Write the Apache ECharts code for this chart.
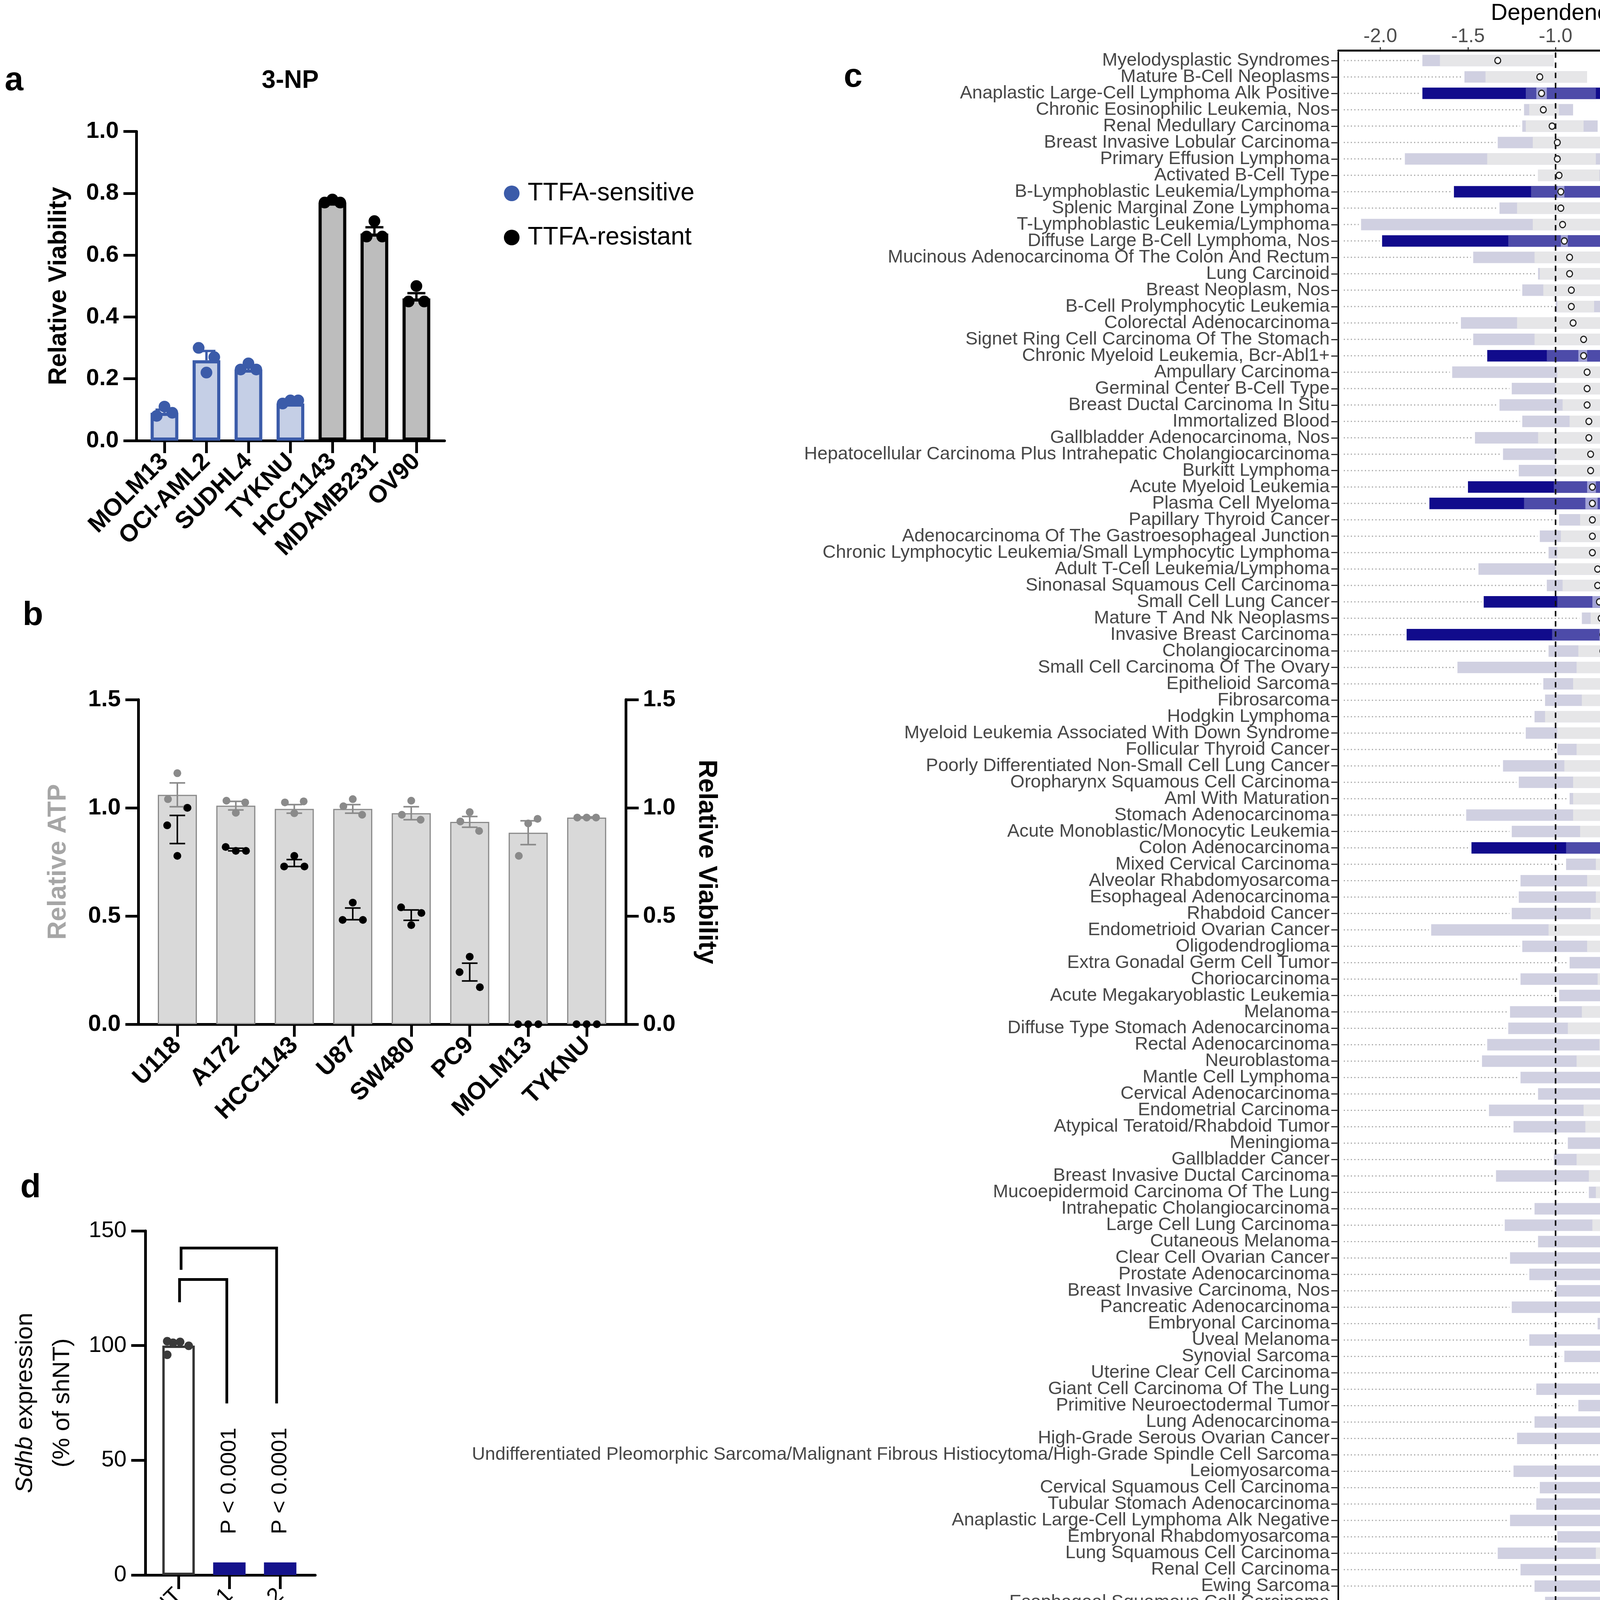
<!DOCTYPE html>
<html>
<head>
<meta charset="utf-8">
<script src="https://cdn.jsdelivr.net/npm/echarts@6.0.0/dist/echarts.min.js"></script>
<style>html,body{margin:0;padding:0;background:#fff}#chart{width:4938px;height:6617px}</style>
</head>
<body>
<div id="chart"></div>
<script>
// ================= Panel a : 3-NP relative viability =================
const viaCells = ['MOLM13','OCI-AML2','SUDHL4','TYKNU','HCC1143','MDAMB231','OV90'];
const viaGroup = ['sensitive','sensitive','sensitive','sensitive','resistant','resistant','resistant'];
const viaMean  = [0.09, 0.26, 0.23, 0.12, 0.77, 0.67, 0.46];
const viaSem   = [0.01, 0.03, 0.01, 0.005, 0.005, 0.02, 0.017];
const viaReps  = [[0.08,0.11,0.09],[0.30,0.22,0.27],[0.23,0.25,0.23],[0.12,0.13,0.13],[0.77,0.78,0.77],[0.66,0.71,0.66],[0.45,0.50,0.45]];

// ================= Panel b : Relative ATP / Relative Viability =================
const atpCells = ['U118','A172','HCC1143','U87','SW480','PC9','MOLM13','TYKNU'];
const atpMean  = [1.06, 1.01, 0.995, 0.995, 0.975, 0.935, 0.885, 0.955];
const atpSem   = [0.055, 0.02, 0.02, 0.02, 0.03, 0.025, 0.055, 0.003];
const atpReps  = [[1.04,1.16,1.00],[1.033,0.977,1.025],[1.025,0.975,1.03],[1.007,1.04,0.968],[0.968,1.033,0.945],[0.937,0.98,0.893],[0.778,0.928,0.949],[0.955,0.955,0.955]];
const viabMean = [0.90, 0.807, 0.745, 0.51, 0.504, 0.241, 0, 0];
const viabSem  = [0.065, 0.006, 0.016, 0.027, 0.024, 0.041, 0, 0];
const viabReps = [[0.919,0.778,1.0],[0.819,0.801,0.801],[0.729,0.778,0.729],[0.482,0.562,0.482],[0.54,0.458,0.514],[0.241,0.312,0.171],[0,0,0],[0,0,0]];

// ================= Panel d : Sdhb expression =================
const shCats   = ['shNT','shSdhb.1','shSdhb.2'];
const shMean   = [100, 5.5, 5.5];
const shNTReps = [101.9, 101.2, 101.6, 99.9, 96.0];
const shPText  = ['P < 0.0001','P < 0.0001'];
const shPAt    = [41, 41];
const bracketFrom = [0.02, 0.05];
const bracketTo   = [0.95, 1.93];
const bracketTop  = [128.8, 142.5];
const bracketLeftFoot  = [118.9, 133];
const bracketRightFoot = [74.8, 74.8];

// ================= Panel c : Dependency score by lineage =================
const depCategories = [
'Myelodysplastic Syndromes','Mature B-Cell Neoplasms','Anaplastic Large-Cell Lymphoma Alk Positive','Chronic Eosinophilic Leukemia, Nos','Renal Medullary Carcinoma','Breast Invasive Lobular Carcinoma','Primary Effusion Lymphoma','Activated B-Cell Type','B-Lymphoblastic Leukemia/Lymphoma','Splenic Marginal Zone Lymphoma',
'T-Lymphoblastic Leukemia/Lymphoma','Diffuse Large B-Cell Lymphoma, Nos','Mucinous Adenocarcinoma Of The Colon And Rectum','Lung Carcinoid','Breast Neoplasm, Nos','B-Cell Prolymphocytic Leukemia','Colorectal Adenocarcinoma','Signet Ring Cell Carcinoma Of The Stomach','Chronic Myeloid Leukemia, Bcr-Abl1+','Ampullary Carcinoma',
'Germinal Center B-Cell Type','Breast Ductal Carcinoma In Situ','Immortalized Blood','Gallbladder Adenocarcinoma, Nos','Hepatocellular Carcinoma Plus Intrahepatic Cholangiocarcinoma','Burkitt Lymphoma','Acute Myeloid Leukemia','Plasma Cell Myeloma','Papillary Thyroid Cancer','Adenocarcinoma Of The Gastroesophageal Junction',
'Chronic Lymphocytic Leukemia/Small Lymphocytic Lymphoma','Adult T-Cell Leukemia/Lymphoma','Sinonasal Squamous Cell Carcinoma','Small Cell Lung Cancer','Mature T And Nk Neoplasms','Invasive Breast Carcinoma','Cholangiocarcinoma','Small Cell Carcinoma Of The Ovary','Epithelioid Sarcoma','Fibrosarcoma',
'Hodgkin Lymphoma','Myeloid Leukemia Associated With Down Syndrome','Follicular Thyroid Cancer','Poorly Differentiated Non-Small Cell Lung Cancer','Oropharynx Squamous Cell Carcinoma','Aml With Maturation','Stomach Adenocarcinoma','Acute Monoblastic/Monocytic Leukemia','Colon Adenocarcinoma','Mixed Cervical Carcinoma',
'Alveolar Rhabdomyosarcoma','Esophageal Adenocarcinoma','Rhabdoid Cancer','Endometrioid Ovarian Cancer','Oligodendroglioma','Extra Gonadal Germ Cell Tumor','Choriocarcinoma','Acute Megakaryoblastic Leukemia','Melanoma','Diffuse Type Stomach Adenocarcinoma',
'Rectal Adenocarcinoma','Neuroblastoma','Mantle Cell Lymphoma','Cervical Adenocarcinoma','Endometrial Carcinoma','Atypical Teratoid/Rhabdoid Tumor','Meningioma','Gallbladder Cancer','Breast Invasive Ductal Carcinoma','Mucoepidermoid Carcinoma Of The Lung',
'Intrahepatic Cholangiocarcinoma','Large Cell Lung Carcinoma','Cutaneous Melanoma','Clear Cell Ovarian Cancer','Prostate Adenocarcinoma','Breast Invasive Carcinoma, Nos','Pancreatic Adenocarcinoma','Embryonal Carcinoma','Uveal Melanoma','Synovial Sarcoma',
'Uterine Clear Cell Carcinoma','Giant Cell Carcinoma Of The Lung','Primitive Neuroectodermal Tumor','Lung Adenocarcinoma','High-Grade Serous Ovarian Cancer','Undifferentiated Pleomorphic Sarcoma/Malignant Fibrous Histiocytoma/High-Grade Spindle Cell Sarcoma','Leiomyosarcoma','Cervical Squamous Cell Carcinoma','Tubular Stomach Adenocarcinoma','Anaplastic Large-Cell Lymphoma Alk Negative',
'Embryonal Rhabdomyosarcoma','Lung Squamous Cell Carcinoma','Renal Cell Carcinoma','Ewing Sarcoma','Esophageal Squamous Cell Carcinoma','Teratoma','Non-Small Cell Lung Cancer','Dedifferentiated Liposarcoma','Uterine Adenosquamous Carcinoma','Serous Ovarian Cancer',
'Adenosquamous Carcinoma Of The Pancreas','Retinoblastoma','Extrahepatic Cholangiocarcinoma','Mucinous Ovarian Cancer','Astrocytoma','Pleural Mesothelioma, Epithelioid Type','Squamous Cell Carcinoma Of The Vulva/Vagina','Anaplastic Thyroid Cancer','Poorly Differentiated Thyroid Cancer','Mucosal Melanoma Of The Vulva/Vagina',
'Urethral Urothelial Carcinoma','Hepatocellular Carcinoma','Medulloblastoma','Bladder Urothelial Carcinoma','Acral Melanoma','Mucinous Stomach Adenocarcinoma','Brenner Tumor, Malignant','Uterine Leiomyosarcoma','Head And Neck Squamous Cell Carcinoma','Hypopharynx Squamous Cell Carcinoma',
'Renal Clear Cell Carcinoma','Hepatoblastoma','Anaplastic Astrocytoma','Larynx Squamous Cell Carcinoma','Merkel Cell Carcinoma','Oral Cavity Squamous Cell Carcinoma','Head And Neck Carcinoma, Other','Lung Adenosquamous Carcinoma','Mixed Germ Cell Tumor','Immortalized Embyonic Kidney Cells',
'Papillary Renal Cell Carcinoma','Glioblastoma','Hyperplasia, Prostate','Uterine Carcinosarcoma/Uterine Malignant Mixed Mullerian Tumor','Cutaneous Squamous Cell Carcinoma','Immortalized Epithelial Cells, Retinal','Gliosarcoma','Pleural Mesothelioma, Biphasic Type','Bladder Squamous Cell Carcinoma','Osteosarcoma',
'Mucoepidermoid Carcinoma','Endometrial Stromal Sarcoma','Mixed Ovarian Carcinoma','Malignant Peripheral Nerve Sheath Tumor','Endocervical Adenocarcinoma','Dedifferentiated Chondrosarcoma','Glassy Cell Carcinoma Of The Cervix','Sarcoma, Nos','Pleural Mesothelioma, Sarcomatoid Type','Liposarcoma',
'Well-Differentiated Liposarcoma'
];
const depLo95 = [
-1.76,-1.52,-1.76,-1.18,-1.19,-1.33,-1.86,-1.10,-1.58,-1.32,
-2.11,-1.99,-1.47,-1.10,-1.19,-1.00,-1.54,-1.47,-1.39,-1.59,
-1.25,-1.32,-1.19,-1.46,-1.30,-1.21,-1.50,-1.72,-0.98,-1.09,
-1.04,-1.44,-1.05,-1.41,-0.85,-1.85,-1.04,-1.56,-1.07,-1.06,
-1.12,-1.17,-0.99,-1.30,-1.21,-0.92,-1.51,-1.25,-1.48,-0.94,
-1.20,-1.21,-1.25,-1.71,-1.19,-0.92,-1.20,-0.98,-1.26,-1.27,
-1.39,-1.42,-1.20,-1.10,-1.38,-1.24,-0.93,-1.01,-1.34,-0.81,
-1.12,-1.29,-1.10,-1.26,-1.15,-1.00,-1.25,-0.76,-1.15,-0.95,
-0.65,-1.11,-0.87,-1.12,-1.22,-0.74,-1.24,-1.09,-1.11,-1.26,
-0.99,-1.33,-1.20,-1.12,-1.06,-0.80,-1.19,-0.90,-1.25,-1.06,
-0.72,-1.41,-1.29,-1.23,-0.84,-1.01,-0.87,-0.85,-0.69,-0.64,
-1.13,-1.08,-1.21,-1.12,-0.99,-0.48,-0.71,-0.83,-1.20,-0.83,
-1.06,-0.80,-0.54,-0.85,-0.66,-0.92,-0.55,-0.85,-0.81,-0.71,
-0.46,-1.12,-0.54,-0.76,-0.74,-0.80,-0.58,-0.88,-0.61,-0.69,
-0.19,-0.63,-0.50,-0.66,-0.52,-0.32,-0.57,-0.30,-0.42,-0.59,
-0.39];
const depLo50 = [
-1.66,-1.40,-1.17,-1.15,-1.17,-1.13,-1.39,-1.10,-1.14,-1.22,
-1.13,-1.27,-1.12,-1.09,-1.07,-0.99,-1.22,-1.12,-1.05,-0.99,
-1.00,-0.96,-0.92,-1.10,-1.00,-1.00,-1.01,-1.18,-0.86,-0.97,
-0.99,-1.00,-0.96,-0.99,-0.80,-1.02,-0.87,-0.88,-0.90,-0.85,
-1.06,-0.99,-0.88,-0.95,-0.90,-0.90,-0.90,-0.86,-0.94,-0.77,
-0.82,-0.77,-0.80,-1.04,-0.82,-0.73,-0.76,-0.65,-0.85,-0.93,
-0.75,-0.88,-0.73,-0.73,-0.84,-0.83,-0.64,-0.88,-0.81,-0.77,
-0.72,-0.79,-0.74,-0.68,-0.67,-0.73,-0.73,-0.73,-0.71,-0.61,
-0.54,-0.72,-0.65,-0.74,-0.64,-0.52,-0.67,-0.69,-0.66,-0.71,
-0.64,-0.77,-0.61,-0.70,-0.64,-0.58,-0.73,-0.48,-0.58,-0.51,
-0.53,-0.70,-0.71,-0.59,-0.60,-0.61,-0.55,-0.50,-0.48,-0.43,
-0.65,-0.64,-0.77,-0.63,-0.77,-0.37,-0.46,-0.35,-0.53,-0.69,
-0.58,-0.56,-0.38,-0.49,-0.46,-0.52,-0.41,-0.41,-0.47,-0.39,
-0.41,-0.43,-0.39,-0.35,-0.43,-0.50,-0.24,-0.47,-0.31,-0.38,
-0.14,-0.27,-0.33,-0.31,-0.27,-0.23,-0.32,-0.25,-0.19,-0.26,
-0.22];
const depMedian = [
-1.33,-1.09,-1.08,-1.07,-1.02,-0.99,-0.99,-0.98,-0.97,-0.97,
-0.96,-0.95,-0.92,-0.92,-0.91,-0.91,-0.90,-0.84,-0.84,-0.82,
-0.82,-0.82,-0.81,-0.81,-0.80,-0.80,-0.79,-0.79,-0.79,-0.79,
-0.79,-0.76,-0.76,-0.75,-0.74,-0.73,-0.73,-0.72,-0.72,-0.71,
-0.71,-0.69,-0.68,-0.68,-0.68,-0.68,-0.66,-0.66,-0.65,-0.64,
-0.64,-0.63,-0.62,-0.60,-0.60,-0.60,-0.58,-0.58,-0.57,-0.57,
-0.56,-0.55,-0.55,-0.54,-0.53,-0.53,-0.52,-0.50,-0.50,-0.49,
-0.46,-0.46,-0.45,-0.45,-0.44,-0.44,-0.44,-0.42,-0.42,-0.42,
-0.42,-0.42,-0.41,-0.40,-0.40,-0.40,-0.40,-0.39,-0.38,-0.38,
-0.38,-0.38,-0.37,-0.37,-0.37,-0.36,-0.36,-0.35,-0.35,-0.35,
-0.35,-0.34,-0.34,-0.34,-0.34,-0.33,-0.32,-0.31,-0.31,-0.31,
-0.31,-0.30,-0.29,-0.29,-0.28,-0.28,-0.28,-0.28,-0.26,-0.26,
-0.25,-0.25,-0.25,-0.25,-0.25,-0.24,-0.23,-0.23,-0.22,-0.22,
-0.21,-0.21,-0.20,-0.17,-0.14,-0.14,-0.14,-0.13,-0.12,-0.11,
-0.11,-0.11,-0.10,-0.08,-0.07,-0.06,-0.06,-0.03,-0.03,-0.03,
0.06];
const depHi50 = [
-1.01,-0.82,-0.77,-0.98,-0.84,-0.73,-0.77,-0.75,-0.71,-0.73,
-0.66,-0.67,-0.53,-0.71,-0.74,-0.78,-0.61,-0.58,-0.58,-0.66,
-0.57,-0.57,-0.47,-0.29,-0.68,-0.65,-0.61,-0.52,-0.68,-0.62,
-0.58,-0.44,-0.57,-0.47,-0.57,-0.41,-0.51,-0.55,-0.42,-0.62,
-0.52,-0.37,-0.53,-0.39,-0.53,-0.39,-0.33,-0.48,-0.34,-0.50,
-0.34,-0.38,-0.43,-0.38,-0.20,-0.39,-0.39,-0.44,-0.32,-0.43,
-0.26,-0.23,-0.50,-0.19,-0.27,-0.38,-0.34,-0.16,-0.22,-0.14,
-0.13,-0.18,-0.29,-0.23,-0.14,-0.28,-0.18,-0.08,-0.17,-0.20,
-0.29,-0.09,-0.31,-0.15,-0.13,-0.19,-0.09,-0.09,-0.22,-0.24,
-0.09,-0.18,-0.15,-0.04,-0.14,-0.19,-0.19,-0.01,-0.09,-0.15,
-0.14,-0.11,-0.07,-0.19,-0.10,0.03,-0.19,-0.04,-0.17,-0.22,
-0.06,-0.07,-0.16,-0.04,-0.08,-0.17,-0.16,-0.22,-0.17,-0.11,
-0.10,-0.15,-0.10,-0.07,0.08,-0.04,-0.05,-0.11,0.01,-0.10,
-0.03,0.05,-0.02,0.20,-0.01,0.18,-0.07,-0.02,0.12,0.07,
-0.05,-0.03,0.10,0.08,0.08,0.09,0.15,0.17,0.10,0.14,
0.21];
const depHi95 = [
-1.01,-0.82,-0.38,-0.90,-0.76,-0.20,-0.29,-0.46,-0.45,-0.52,
-0.27,-0.04,-0.38,-0.65,-0.60,-0.50,-0.39,-0.26,0.03,-0.36,
-0.08,0.07,-0.26,0.12,-0.61,-0.18,-0.14,-0.09,-0.45,-0.57,
-0.21,0.01,-0.50,0.05,-0.41,0.11,-0.17,-0.12,-0.07,-0.52,
-0.36,-0.17,-0.28,-0.03,-0.45,-0.24,0.15,-0.14,0.08,-0.30,
0.04,0.07,-0.12,-0.21,0.07,0.01,-0.07,-0.12,0.10,-0.14,
0.00,0.19,-0.38,-0.02,0.10,-0.15,-0.10,-0.16,0.04,0.07,
0.27,0.10,-0.09,0.19,0.17,-0.14,0.16,0.04,0.25,0.23,
-0.14,0.11,-0.07,0.18,0.11,0.01,0.20,0.24,0.00,-0.24,
0.19,0.20,0.23,0.20,0.11,-0.13,0.13,0.28,0.06,0.15,
0.01,0.04,0.31,0.12,0.26,0.29,-0.14,0.19,-0.06,-0.10,
0.01,0.21,0.21,0.23,0.31,-0.04,-0.09,0.11,0.35,0.13,
0.09,-0.03,0.04,0.17,0.28,0.23,0.08,0.07,0.30,0.11,
-0.03,0.40,0.08,0.40,0.19,0.28,0.22,0.32,0.38,0.24,
0.03,-0.03,0.18,0.36,0.16,0.13,0.23,0.17,0.24,0.27,
0.49];
// highlighted lineages (coloured intervals) and their 0.05 interval
const hlRows = ['Anaplastic Large-Cell Lymphoma Alk Positive','B-Lymphoblastic Leukemia/Lymphoma','Diffuse Large B-Cell Lymphoma, Nos','Chronic Myeloid Leukemia, Bcr-Abl1+','Acute Myeloid Leukemia','Plasma Cell Myeloma','Small Cell Lung Cancer','Invasive Breast Carcinoma','Colon Adenocarcinoma','Bladder Urothelial Carcinoma','Oral Cavity Squamous Cell Carcinoma','Glioblastoma','Osteosarcoma','Malignant Peripheral Nerve Sheath Tumor','Well-Differentiated Liposarcoma'];
const hlLo05 = [-1.11,-0.99,-0.97,-0.87,-0.82,-0.83,-0.79,-0.75,-0.68,-0.31,-0.26,-0.22,-0.13,-0.11,0.04];
const hlHi05 = [-1.05,-0.95,-0.93,-0.82,-0.77,-0.76,-0.68,-0.71,-0.62,-0.28,-0.22,-0.19,-0.09,-0.05,0.08];
const depTicks = [-2.0,-1.5,-1.0,-0.5,0.0,0.5];
const depRefLines = [-1.0, 0.0];
const levelNames = ['0.05','0.5','0.95'];
// annotations (arrow tip position in dependency-score units)
const annoRows  = ['Anaplastic Large-Cell Lymphoma Alk Positive','B-Lymphoblastic Leukemia/Lymphoma','Diffuse Large B-Cell Lymphoma, Nos','Chronic Myeloid Leukemia, Bcr-Abl1+','Acute Myeloid Leukemia'];
const annoTexts = ['Alk\u207A ALCL','B-ALL/B-LLy','DLBCL','Bcr-Abl1\u207A\nCML','AML'];
const annoTip   = [-0.215, -0.258, 0.108, 0.081, 0.101];

// ================= styles =================
const FONT = '"Liberation Sans", Arial, Helvetica, sans-serif';
const SENS = {fill:'#c5cfe6', line:'#3b5ba9'};
const RES  = {fill:'#bdbdbd', line:'#000000'};
const C95 = '#110b8c', C50 = '#4d4ba9', C05 = '#a3a3d6';
const G95 = '#d0d0e1', G50 = '#e6e6e8';
const LEGC = ['#9c9cd3','#4f4fb0','#0b0b8b'];
const ANNO_SHAFT = [148, 149, 149, 120, 148];
const ANNO_GAP   = [192, 186, 195, 164, 198];

const chart = echarts.init(document.getElementById('chart'), null, {renderer:'canvas'});

function idx(arr){ return arr.map((_, i) => i); }

function pointRenderer(offsets, size, colorFn) {
  return function (params, api) {
    const i = api.value(0);
    const p = api.coord([i, api.value(1)]);
    const off = offsets[api.value(2)];
    return {type:'circle', shape:{cx:p[0] + off, cy:p[1], r:size / 2}, style:{fill: colorFn(i)}};
  };
}
function errRenderer(capW, lw, colorFn, both) {
  return function (params, api) {
    const i = api.value(0), m = api.value(1), s = api.value(2);
    const top = api.coord([i, m + s]);
    const bot = api.coord([i, both ? m - s : m]);
    const c = colorFn(i);
    const kids = [
      {type:'line', shape:{x1:top[0], y1:top[1], x2:bot[0], y2:bot[1]}, style:{stroke:c, lineWidth:lw}},
      {type:'line', shape:{x1:top[0]-capW/2, y1:top[1], x2:top[0]+capW/2, y2:top[1]}, style:{stroke:c, lineWidth:lw}}
    ];
    if (both) kids.push({type:'line', shape:{x1:bot[0]-capW/2, y1:bot[1], x2:bot[0]+capW/2, y2:bot[1]}, style:{stroke:c, lineWidth:lw}});
    return {type:'group', children:kids};
  };
}

function catXAxis(gi, names, min, max, fontWeight, fontSize, lw, tickLen) {
  return {
    gridIndex: gi, type:'value', min:min, max:max,
    axisLine:{show:true, onZero:false, lineStyle:{color:'#000', width:lw}},
    axisTick:{show:true, length:tickLen, customValues: idx(names), lineStyle:{color:'#000', width:lw}},
    axisLabel:{show:true, customValues: idx(names), formatter: v => names[Math.round(v)] || '', rotate:45,
      fontFamily:FONT, fontWeight:fontWeight, fontSize:fontSize, color:'#000', margin:44},
    splitLine:{show:false}
  };
}

const sensIdx = idx(viaCells).filter(i => viaGroup[i] === 'sensitive');
const resIdx  = idx(viaCells).filter(i => viaGroup[i] === 'resistant');
const repData = (reps, list) => { const out = []; list.forEach(i => reps[i].forEach((v, k) => out.push([i, v, k]))); return out; };

const depRowData = depCategories.map((c, i) => [depMedian[i], i]);

function renderDep(params, api) {
  const i = params.dataIndex;
  const cs = params.coordSys;
  const X = v => api.coord([v, i])[0];
  const yc = api.coord([depMedian[i], i])[1];
  const h = api.size([0, 1])[1] * 0.7;
  const k = hlRows.indexOf(depCategories[i]);
  const hl = k >= 0;
  const rect = (a, b, c) => ({type:'rect', shape:{x:X(a), y:yc - h/2, width:Math.max(X(b) - X(a), 1), height:h}, style:{fill:c}});
  const kids = [];
  kids.push({type:'line', shape:{x1:cs.x + 14, y1:yc, x2:X(depLo95[i]) - 6, y2:yc}, style:{stroke:'#a9a9a9', lineWidth:3, lineDash:[3,6]}});
  kids.push(rect(depLo95[i], depHi95[i], hl ? C95 : G95));
  kids.push(rect(depLo50[i], depHi50[i], hl ? C50 : G50));
  if (hl) kids.push(rect(hlLo05[k], hlHi05[k], C05));
  return {type:'group', children:kids};
}

function renderRef(params, api) {
  const cs = params.coordSys;
  const x = api.coord([api.value(0), 0])[0];
  const isMain = params.dataIndex === 0;
  return {type:'line', shape:{x1:x, y1:cs.y, x2:x, y2:cs.y + cs.height},
    style:{stroke: isMain ? '#111' : '#c4c4c4', lineWidth: isMain ? 4 : 3, lineDash: isMain ? [14,12] : [26,22]}};
}

function renderAnno(params, api) {
  const k = params.dataIndex;
  const p = api.coord([api.value(0), api.value(1)]);
  const twoLine = annoTexts[k].indexOf('\n') >= 0;
  return {type:'group', children:[
    {type:'polygon', shape:{points:[[p[0], p[1]], [p[0] + 58, p[1] - 31], [p[0] + 58, p[1] + 31]]}, style:{fill:'#000'}},
    {type:'line', shape:{x1:p[0] + 50, y1:p[1], x2:p[0] + ANNO_SHAFT[k], y2:p[1]}, style:{stroke:'#000', lineWidth:6}},
    {type:'text', x:p[0] + ANNO_GAP[k], y:p[1] + (twoLine ? 12 : -3), style:{text:annoTexts[k], fontFamily:FONT, fontSize:70, fill:'#000',
      align:'left', verticalAlign:'middle', lineHeight:96}}
  ]};
}

function renderBracket(params, api) {
  const k = params.dataIndex;
  const a = api.coord([bracketFrom[k], bracketLeftFoot[k]]);
  const t1 = api.coord([bracketFrom[k], bracketTop[k]]);
  const t2 = api.coord([bracketTo[k], bracketTop[k]]);
  const b = api.coord([bracketTo[k], bracketRightFoot[k]]);
  return {type:'polyline', shape:{points:[a, t1, t2, b]}, style:{stroke:'#000', lineWidth:7, fill:null}};
}
function renderPText(params, api) {
  const p = api.coord([api.value(0), api.value(1)]);
  return {type:'text', x:p[0], y:p[1], rotation:Math.PI/2,
    style:{text:shPText[params.dataIndex], fontFamily:FONT, fontSize:56, fill:'#000', align:'center', verticalAlign:'middle'}};
}

const option = {
  animation:false,
  backgroundColor:'#ffffff',
  textStyle:{fontFamily:FONT},
  grid:[
    {left:349, top:336.5, width:789, height:791.5},
    {left:354, top:1791, width:1248, height:831},
    {left:372, top:3151, width:435, height:881},
    {left:3426, top:133, width:1283, height:6342}
  ],
  legend:[
    {data:['TTFA-sensitive','TTFA-resistant'], left:1285, top:458, orient:'vertical', icon:'circle',
      itemWidth:40, itemHeight:40, itemGap:49, selectedMode:false,
      textStyle:{fontFamily:FONT, fontSize:64, color:'#000', lineHeight:40, padding:[0,0,0,16]}},
    {data:levelNames, left:4770, top:3269, orient:'vertical', icon:'rect',
      itemWidth:42, itemHeight:30, itemGap:27, selectedMode:false,
      textStyle:{fontFamily:FONT, fontSize:47, color:'#000', lineHeight:30, padding:[0,0,0,22]}}
  ],
  graphic:[
    {type:'text', x:12, y:207, style:{text:'a', fontFamily:FONT, fontWeight:'bold', fontSize:86, fill:'#000', align:'left', verticalAlign:'middle'}},
    {type:'text', x:58, y:1576, style:{text:'b', fontFamily:FONT, fontWeight:'bold', fontSize:86, fill:'#000', align:'left', verticalAlign:'middle'}},
    {type:'text', x:2160, y:198, style:{text:'c', fontFamily:FONT, fontWeight:'bold', fontSize:86, fill:'#000', align:'left', verticalAlign:'middle'}},
    {type:'text', x:52, y:3041, style:{text:'d', fontFamily:FONT, fontWeight:'bold', fontSize:86, fill:'#000', align:'left', verticalAlign:'middle'}},
    {type:'text', x:743, y:207, style:{text:'3-NP', fontFamily:FONT, fontWeight:'bold', fontSize:64, fill:'#000', align:'center', verticalAlign:'middle'}},
    {type:'text', x:4766, y:3212, style:{text:'level', fontFamily:FONT, fontSize:53, fill:'#000', align:'left', verticalAlign:'middle'}}
  ],
  xAxis:[
    catXAxis(0, viaCells, -0.67, 6.67, 'bold', 62, 7, 32),
    catXAxis(1, atpCells, -0.668, 7.669, 'bold', 62, 7, 32),
    catXAxis(2, shCats, -0.654, 2.69, 'normal', 58, 7, 36),
    {gridIndex:3, type:'value', position:'bottom', offset:5, min:-2.24, max:0.62,
      axisLine:{show:true, onZero:false, lineStyle:{color:'#000', width:5}},
      axisTick:{show:true, length:8, customValues:depTicks, lineStyle:{color:'#333', width:3}},
      axisLabel:{show:true, customValues:depTicks, formatter:v => v.toFixed(1), fontFamily:FONT, fontSize:50, color:'#4d4d4d', margin:16},
      splitLine:{show:false},
      name:'Dependency Score', nameLocation:'middle', nameGap:66, nameTextStyle:{fontFamily:FONT, fontSize:59, color:'#000'}},
    {gridIndex:3, type:'value', position:'top', offset:5, min:-2.24, max:0.62,
      axisLine:{show:true, onZero:false, lineStyle:{color:'#000', width:5}},
      axisTick:{show:true, length:8, customValues:depTicks, lineStyle:{color:'#333', width:3}},
      axisLabel:{show:true, customValues:depTicks, formatter:v => v.toFixed(1), fontFamily:FONT, fontSize:50, color:'#4d4d4d', margin:10},
      splitLine:{show:false},
      name:'Dependency Score', nameLocation:'middle', nameGap:60, nameTextStyle:{fontFamily:FONT, fontSize:59, color:'#000'}}
  ],
  yAxis:[
    {gridIndex:0, type:'value', min:0, max:1, interval:0.2,
      axisLine:{show:true, onZero:false, lineStyle:{color:'#000', width:7}},
      axisTick:{show:true, length:33, lineStyle:{color:'#000', width:7}},
      axisLabel:{formatter:v => v.toFixed(1), fontFamily:FONT, fontWeight:'bold', fontSize:60, color:'#000', margin:45},
      splitLine:{show:false},
      name:'Relative Viability', nameLocation:'middle', nameRotate:90, nameGap:166,
      nameTextStyle:{fontFamily:FONT, fontWeight:'bold', fontSize:64, color:'#000'}},
    {gridIndex:1, type:'value', position:'left', min:0, max:1.5, interval:0.5,
      axisLine:{show:true, onZero:false, lineStyle:{color:'#000', width:7}},
      axisTick:{show:true, length:33, lineStyle:{color:'#000', width:7}},
      axisLabel:{formatter:v => v.toFixed(1), fontFamily:FONT, fontWeight:'bold', fontSize:60, color:'#000', margin:45},
      splitLine:{show:false},
      name:'Relative ATP', nameLocation:'middle', nameRotate:90, nameGap:171,
      nameTextStyle:{fontFamily:FONT, fontWeight:'bold', fontSize:66, color:'#a6a6a6'}},
    {gridIndex:1, type:'value', position:'right', min:0, max:1.5, interval:0.5,
      axisLine:{show:true, onZero:false, lineStyle:{color:'#000', width:7}},
      axisTick:{show:true, length:33, lineStyle:{color:'#000', width:7}},
      axisLabel:{formatter:v => v.toFixed(1), fontFamily:FONT, fontWeight:'bold', fontSize:60, color:'#000', margin:44},
      splitLine:{show:false},
      name:'Relative Viability', nameLocation:'middle', nameRotate:-90, nameGap:173,
      nameTextStyle:{fontFamily:FONT, fontWeight:'bold', fontSize:66, color:'#000'}},
    {gridIndex:2, type:'value', min:0, max:150, interval:50,
      axisLine:{show:true, onZero:false, lineStyle:{color:'#000', width:7}},
      axisTick:{show:true, length:36, lineStyle:{color:'#000', width:7}},
      axisLabel:{fontFamily:FONT, fontSize:58, color:'#000', margin:48},
      splitLine:{show:false},
      name:'{it|Sdhb} expression\n(% of shNT)', nameLocation:'middle', nameRotate:90, nameGap:165,
      nameTextStyle:{fontFamily:FONT, fontSize:62, color:'#000', lineHeight:95,
        rich:{it:{fontFamily:FONT, fontStyle:'italic', fontSize:62, lineHeight:95, color:'#000'}}}},
    {gridIndex:3, type:'category', data:depCategories, inverse:true,
      axisLine:{show:true, onZero:false, lineStyle:{color:'#000', width:4}},
      axisTick:{show:true, alignWithLabel:true, length:18, lineStyle:{color:'#333', width:3}},
      axisLabel:{interval:0, fontFamily:FONT, fontSize:47, color:'#474747', margin:22},
      splitLine:{show:false}}
  ],
  series:[
    // ---- panel a ----
    {type:'bar', xAxisIndex:0, yAxisIndex:0, barWidth:71, z:2,
      data: viaMean.map((v, i) => ({value:[i, v], itemStyle:{color: viaGroup[i] === 'sensitive' ? SENS.fill : RES.fill,
        borderColor: viaGroup[i] === 'sensitive' ? SENS.line : RES.line, borderWidth:8}}))},
    {type:'custom', xAxisIndex:0, yAxisIndex:0, z:4,
      renderItem: errRenderer(46, 6, i => viaGroup[i] === 'sensitive' ? SENS.line : RES.line, false),
      data: viaMean.map((v, i) => [i, v, viaSem[i]])},
    {type:'custom', name:'TTFA-sensitive', xAxisIndex:0, yAxisIndex:0, z:5, itemStyle:{color:SENS.line},
      renderItem: pointRenderer([-20, 0, 20], 30, () => SENS.line), data: repData(viaReps, sensIdx)},
    {type:'custom', name:'TTFA-resistant', xAxisIndex:0, yAxisIndex:0, z:5, itemStyle:{color:'#000'},
      renderItem: pointRenderer([-20, 0, 20], 30, () => '#000'), data: repData(viaReps, resIdx)},
    // ---- panel b ----
    {type:'bar', xAxisIndex:1, yAxisIndex:1, barWidth:100, z:2,
      itemStyle:{color:'#d9d9d9', borderColor:'#8a8a8a', borderWidth:3},
      data: atpMean.map((v, i) => [i, v])},
    {type:'custom', xAxisIndex:1, yAxisIndex:1, z:4,
      renderItem: errRenderer(40, 4, () => '#8a8a8a', true),
      data: atpMean.map((v, i) => [i, v, atpSem[i]])},
    {type:'custom', xAxisIndex:1, yAxisIndex:1, z:5,
      renderItem: pointRenderer([-24, 0, 24], 20, () => '#8a8a8a'), data: repData(atpReps, idx(atpCells))},
    {type:'custom', xAxisIndex:1, yAxisIndex:2, z:6,
      renderItem: errRenderer(40, 4, () => '#000', true),
      data: viabMean.map((v, i) => [i, v, viabSem[i]]).filter(d => d[2] > 0)},
    {type:'custom', xAxisIndex:1, yAxisIndex:2, z:7,
      renderItem: pointRenderer([-26, 0, 26], 20, () => '#000'), data: repData(viabReps, idx(atpCells))},
    // ---- panel d ----
    {type:'bar', xAxisIndex:2, yAxisIndex:3, barWidth:83, z:2,
      data: shMean.map((v, i) => ({value:[i, v], itemStyle: i === 0 ? {color:'#ffffff', borderColor:'#333', borderWidth:6}
        : {color:'#14128c', borderColor:'#14128c', borderWidth:4}}))},
    {type:'custom', xAxisIndex:2, yAxisIndex:3, z:5,
      renderItem: (params, api) => {
        const p = api.coord([api.value(0), api.value(1)]);
        const offs = [-29, -14, 4, 26, -29];
        return {type:'circle', shape:{cx:p[0] + offs[params.dataIndex], cy:p[1], r:11}, style:{fill:'#3a3a3a'}};
      },
      data: shNTReps.map(v => [0, v])},
    {type:'custom', xAxisIndex:2, yAxisIndex:3, z:5, renderItem: renderBracket,
      data: bracketTop.map((t, k) => [bracketFrom[k], t])},
    {type:'custom', xAxisIndex:2, yAxisIndex:3, z:5, renderItem: renderPText,
      data: shPAt.map((v, k) => [k + 1, v])},
    // ---- panel c ----
    {type:'custom', xAxisIndex:3, yAxisIndex:4, z:2, renderItem: renderDep,
      encode:{x:0, y:1}, data: depRowData},
    {type:'custom', xAxisIndex:3, yAxisIndex:4, z:3, renderItem: renderRef,
      encode:{x:0, y:1}, data: depRefLines.map(v => [v, 0])},
    {type:'scatter', xAxisIndex:3, yAxisIndex:4, z:4, symbol:'circle', symbolSize:[15,16],
      itemStyle:{color:'#ffffff', borderColor:'#222', borderWidth:3, opacity:1},
      data: depRowData},
    {type:'custom', xAxisIndex:3, yAxisIndex:4, z:6, renderItem: renderAnno,
      encode:{x:0, y:1}, data: annoRows.map((r, k) => [annoTip[k], depCategories.indexOf(r)])},
    {type:'bar', name:levelNames[0], xAxisIndex:3, yAxisIndex:4, data:[], itemStyle:{color:LEGC[0]}},
    {type:'bar', name:levelNames[1], xAxisIndex:3, yAxisIndex:4, data:[], itemStyle:{color:LEGC[1]}},
    {type:'bar', name:levelNames[2], xAxisIndex:3, yAxisIndex:4, data:[], itemStyle:{color:LEGC[2]}}
  ]
};
chart.setOption(option);
</script>
</body>
</html>
